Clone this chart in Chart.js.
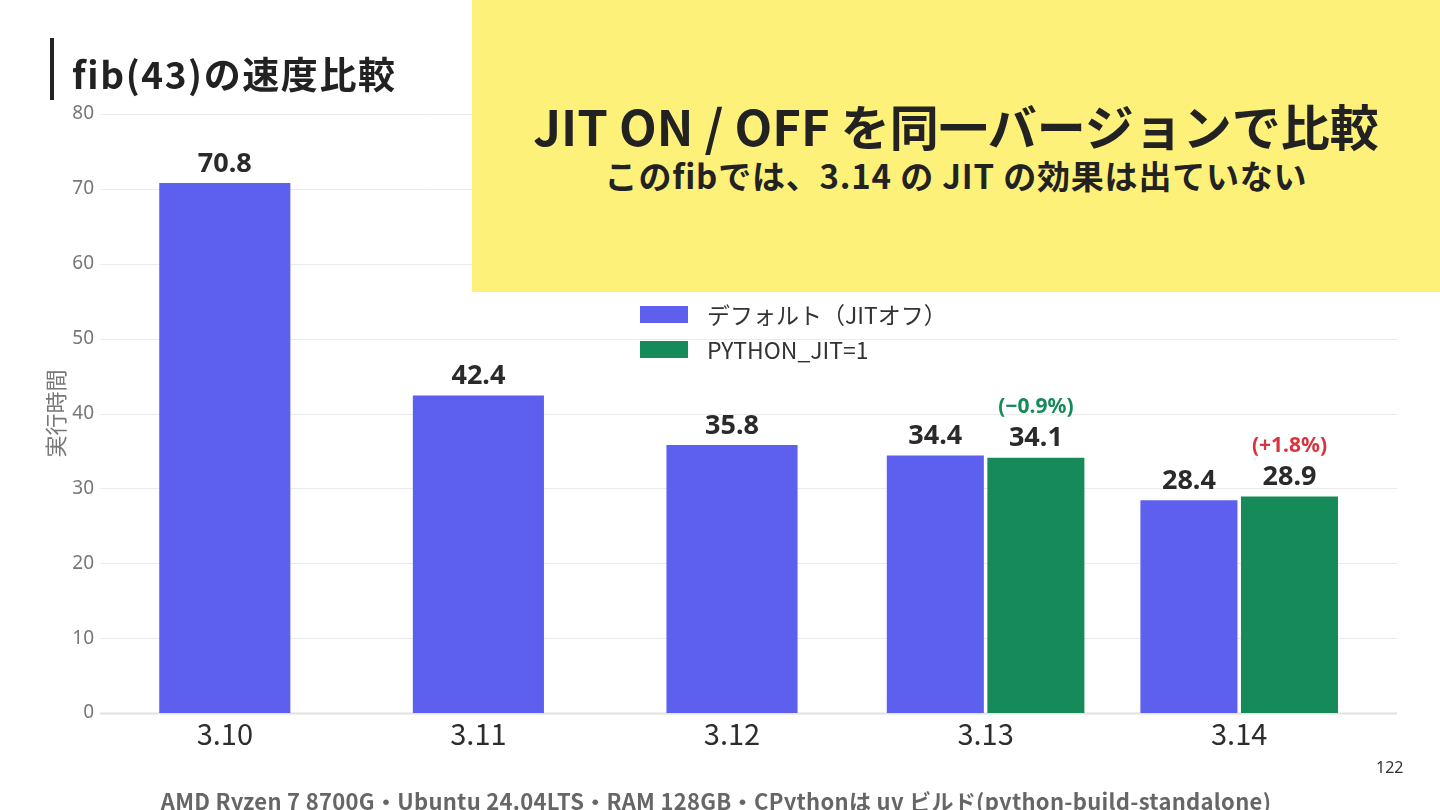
<!DOCTYPE html>
<html lang="ja">
<head>
<meta charset="utf-8">
<script src="https://cdn.jsdelivr.net/npm/chart.js@4.4.1/dist/chart.umd.min.js"></script>
<style>
  html, body { margin:0; padding:0; background:#fff; }
  body { width:1440px; height:810px; position:relative; overflow:hidden; font-family:"Noto Sans CJK JP","Noto Sans",sans-serif; }
  #chart { position:absolute; left:0; top:0; }
  .titlebar { position:absolute; left:50px; top:38px; width:4px; height:62px; background:#222; }
  .title { position:absolute; left:72px; top:49px; font-size:37px; font-weight:700; color:#222; line-height:48px; white-space:nowrap; letter-spacing:1.6px; }
  .callout { position:absolute; left:472px; top:0; width:968px; height:292px; background:#fef17a; }
  .callout h1 { position:absolute; left:0; width:968px; top:94px; margin:0; text-align:center; font-size:49px; font-weight:700; color:#222; line-height:62px; white-space:nowrap; }
  .callout h2 { position:absolute; left:0; width:968px; top:154px; margin:0; text-align:center; font-size:33px; font-weight:700; color:#222; line-height:42px; white-space:nowrap; letter-spacing:0.8px; }
  .legend { position:absolute; left:640px; top:302px; font-family:"Noto Sans CJK JP","Noto Sans",sans-serif; font-size:23px; color:#333; }
  .legend .row { position:relative; height:35px; line-height:26px; white-space:nowrap; }
  .legend .sw { position:absolute; left:0; top:4px; width:48px; height:17px; }
  .legend .tx { position:absolute; left:67px; top:-1px; }
  .footer { position:absolute; left:0; width:1432px; top:785px; text-align:center; font-size:22px; font-weight:700; color:#666; white-space:nowrap; line-height:30px; letter-spacing:0.3px; }
  .page { position:absolute; left:1376px; top:756px; font-size:16px; color:#333; font-family:"Noto Sans",sans-serif; }
</style>
</head>
<body>
<canvas id="chart" width="1440" height="810"></canvas>
<div class="titlebar"></div>
<div class="title">fib(43)の速度比較</div>
<div class="callout">
  <h1>JIT ON / OFF を同一バージョンで比較</h1>
  <h2>このfibでは、3.14 の JIT の効果は出ていない</h2>
</div>
<div class="legend" id="legend"></div>
<div class="footer">AMD Ryzen 7 8700G・Ubuntu 24.04LTS・RAM 128GB・CPythonは uv ビルド(python-build-standalone)</div>
<div class="page">122</div>
<script>
// ---- data ----
const categories = ['3.10', '3.11', '3.12', '3.13', '3.14'];
const defaultTimes = [70.8, 42.4, 35.8, 34.4, 28.4];   // デフォルト（JITオフ）
const jitTimes = [null, null, null, 34.1, 28.9];       // PYTHON_JIT=1
const yTickValues = [0, 10, 20, 30, 40, 50, 60, 70, 80];
const seriesNames = ['デフォルト（JITオフ）', 'PYTHON_JIT=1'];
const yAxisTitle = '実行時間';

// ---- styles ----
const BLUE = '#5d5fef';
const GREEN = '#178a5a';
const RED = '#d9343f';

// default bars split: alone (no JIT value) vs paired with JIT bar
const defaultAlone = defaultTimes.map((v, i) => jitTimes[i] == null ? v : null);
const defaultPaired = defaultTimes.map((v, i) => jitTimes[i] != null ? v : null);
const pctLabels = jitTimes.map((v, i) => {
  if (v == null) return null;
  const p = (v - defaultTimes[i]) / defaultTimes[i] * 100;
  return '(' + (p >= 0 ? '+' : '\u2212') + Math.abs(p).toFixed(1) + '%)';
});

// legend (HTML)
const legendEl = document.getElementById('legend');
[[seriesNames[0], BLUE], [seriesNames[1], GREEN]].forEach(([name, col]) => {
  const r = document.createElement('div'); r.className = 'row';
  r.innerHTML = '<div class="sw" style="background:' + col + '"></div><div class="tx"></div>';
  r.querySelector('.tx').textContent = name;
  legendEl.appendChild(r);
});

const gridPlugin = {
  id: 'extGrid',
  beforeDatasetsDraw(chart) {
    const y = chart.scales.y, ctx = chart.ctx;
    ctx.save();
    yTickValues.forEach(v => {
      const py = Math.round(y.getPixelForValue(v)) + 0.5;
      ctx.strokeStyle = v === 0 ? '#e2e2e2' : '#ebebeb';
      ctx.lineWidth = v === 0 ? 2 : 1;
      ctx.beginPath(); ctx.moveTo(100, py); ctx.lineTo(1397, py); ctx.stroke();
    });
    ctx.restore();
  }
};

const labelPlugin = {
  id: 'barLabels',
  afterDatasetsDraw(chart) {
    const ctx = chart.ctx;
    ctx.save();
    ctx.textAlign = 'center';
    ctx.textBaseline = 'middle';
    chart.data.datasets.forEach((ds, di) => {
      const meta = chart.getDatasetMeta(di);
      meta.data.forEach((bar, j) => {
        const v = ds.data[j];
        if (v == null) return;
        ctx.fillStyle = '#2a2a2a';
        ctx.font = '700 27px "Noto Sans", sans-serif';
        ctx.fillText(v.toFixed(1), bar.x, bar.y - 19);
        if (ds.isJit && pctLabels[j]) {
          const neg = jitTimes[j] < defaultTimes[j];
          ctx.fillStyle = neg ? GREEN : RED;
          ctx.font = '700 21px "Noto Sans", sans-serif';
          ctx.fillText(pctLabels[j], bar.x, bar.y - 51);
        }
      });
    });
    ctx.restore();
  }
};

new Chart(document.getElementById('chart'), {
  type: 'bar',
  data: {
    labels: categories,
    datasets: [
      { label: seriesNames[0], data: defaultAlone, backgroundColor: BLUE, grouped: false, barPercentage: 0.517, categoryPercentage: 1 },
      { label: seriesNames[0], data: defaultPaired, backgroundColor: BLUE, categoryPercentage: 0.793, barPercentage: 0.965 },
      { label: seriesNames[1], data: jitTimes, backgroundColor: GREEN, categoryPercentage: 0.793, barPercentage: 0.965, isJit: true }
    ]
  },
  options: {
    responsive: false,
    animation: false,
    devicePixelRatio: 1,
    layout: { padding: { left: 0, right: 74, top: 114, bottom: 0 } },
    plugins: { legend: { display: false }, tooltip: { enabled: false }, title: { display: false } },
    scales: {
      x: {
        type: 'category',
        grid: { display: false, drawTicks: false },
        border: { display: false },
        ticks: { color: '#2d2d2d', font: { family: '"Noto Sans CJK JP", "Noto Sans", sans-serif', size: 29 }, padding: 4, maxRotation: 0 },
        afterFit(s) { s.height = 97; }
      },
      y: {
        min: 0, max: 80,
        afterBuildTicks(s) { s.ticks = yTickValues.map(v => ({ value: v })); },
        grid: { display: false, drawTicks: false },
        border: { display: false },
        ticks: { color: '#777', font: { family: '"Noto Sans", sans-serif', size: 19 }, padding: 4 },
        title: { display: true, text: yAxisTitle, color: '#777', font: { family: '"Noto Sans CJK JP", sans-serif', size: 22 }, padding: { top: 42, bottom: 0 } },
        afterFit(s) { s.width = 98; }
      }
    }
  },
  plugins: [gridPlugin, labelPlugin]
});
</script>
</body>
</html>
